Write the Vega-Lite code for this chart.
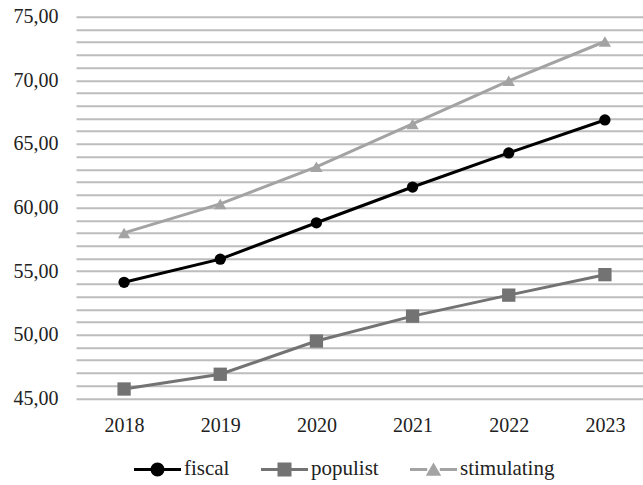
{
  "$schema": "https://vega.github.io/schema/vega-lite/v6.json",
  "width": 577,
  "height": 381.6,
  "autosize": {"type": "none"},
  "padding": {"left": 76, "top": 16.7, "right": 0, "bottom": 87},
  "background": "white",
  "config": {"view": {"stroke": null}, "font": "Liberation Serif"},
  "data": {
    "values": [
      {"year": "2018", "series": "fiscal", "value": 54.12},
      {"year": "2019", "series": "fiscal", "value": 55.94},
      {"year": "2020", "series": "fiscal", "value": 58.8},
      {"year": "2021", "series": "fiscal", "value": 61.61},
      {"year": "2022", "series": "fiscal", "value": 64.29},
      {"year": "2023", "series": "fiscal", "value": 66.88},
      {"year": "2018", "series": "populist", "value": 45.73},
      {"year": "2019", "series": "populist", "value": 46.89},
      {"year": "2020", "series": "populist", "value": 49.5},
      {"year": "2021", "series": "populist", "value": 51.46},
      {"year": "2022", "series": "populist", "value": 53.11},
      {"year": "2023", "series": "populist", "value": 54.72},
      {"year": "2018", "series": "stimulating", "value": 58.0},
      {"year": "2019", "series": "stimulating", "value": 60.28},
      {"year": "2020", "series": "stimulating", "value": 63.2},
      {"year": "2021", "series": "stimulating", "value": 66.57},
      {"year": "2022", "series": "stimulating", "value": 69.96},
      {"year": "2023", "series": "stimulating", "value": 73.05}
    ]
  },
  "encoding": {
    "x": {
      "field": "year", "type": "ordinal",
      "scale": {"type": "point", "padding": 0.5},
      "axis": {"title": null, "labelAngle": 0, "ticks": false, "domain": false, "grid": false, "labelFontSize": 20, "labelPadding": 17, "labelColor": "#222222"}
    },
    "y": {
      "field": "value", "type": "quantitative",
      "scale": {"domain": [45, 75], "nice": false, "zero": false},
      "axis": {
        "title": null, "ticks": false, "domain": false,
        "values": [45,46,47,48,49,50,51,52,53,54,55,56,57,58,59,60,61,62,63,64,65,66,67,68,69,70,71,72,73,74,75],
        "labelExpr": "datum.value % 5 == 0 ? replace(format(datum.value, '.2f'), '.', ',') : ''",
        "gridColor": "#bdbdbd", "gridWidth": 2, "labelPadding": 18, "labelFontSize": 20, "labelColor": "#222222"
      }
    },
    "color": {
      "field": "series", "type": "nominal",
      "scale": {"domain": ["fiscal", "populist", "stimulating"], "range": ["#000000", "#737373", "#a3a3a3"]}
    }
  },
  "layer": [
    {
      "mark": {"type": "point", "filled": true, "opacity": 0, "size": 196},
      "encoding": {
        "color": {
          "field": "series", "type": "nominal",
          "legend": {
            "title": null, "orient": "none", "direction": "horizontal", "legendX": 71, "legendY": 442, "padding": 0,
            "labelFontSize": 21, "labelColor": "#222222", "symbolSize": 196, "symbolOpacity": 1, "symbolStrokeWidth": 0,
            "labelOffset": 16, "columnPadding": 30
          }
        },
        "shape": {
          "field": "series", "type": "nominal",
          "scale": {
            "domain": ["fiscal", "populist", "stimulating"],
            "range": [
              "M-3.36,-0.21H-0.9V0.21H-3.36Z M0.9,-0.21H3.36V0.21H0.9Z M1,0L0.924,0.383L0.707,0.707L0.383,0.924L0,1L-0.383,0.924L-0.707,0.707L-0.924,0.383L-1,0L-0.924,-0.383L-0.707,-0.707L-0.383,-0.924L0,-1L0.383,-0.924L0.707,-0.707L0.924,-0.383Z",
              "M-3.36,-0.21H-0.9V0.21H-3.36Z M0.9,-0.21H3.36V0.21H0.9Z M-1,-1H1V1H-1Z",
              "M-3.36,-0.21H-0.9V0.21H-3.36Z M0.9,-0.21H3.36V0.21H0.9Z M0,-1L1.1,0.9L-1.1,0.9Z"
            ]
          },
          "legend": {
            "title": null, "orient": "none", "direction": "horizontal", "legendX": 71, "legendY": 442, "padding": 0,
            "labelFontSize": 21, "labelColor": "#222222", "symbolSize": 196, "symbolOpacity": 1, "symbolStrokeWidth": 0,
            "labelOffset": 16, "columnPadding": 30
          }
        }
      }
    },
    {"mark": {"type": "line", "strokeWidth": 3}},
    {
      "transform": [{"filter": "datum.series === 'fiscal'"}],
      "mark": {"type": "point", "filled": true, "opacity": 1, "shape": "circle", "size": 127}
    },
    {
      "transform": [{"filter": "datum.series === 'populist'"}],
      "mark": {"type": "point", "filled": true, "opacity": 1, "shape": "square", "size": 177}
    },
    {
      "transform": [{"filter": "datum.series === 'stimulating'"}],
      "mark": {"type": "point", "filled": true, "opacity": 1, "shape": "triangle-up", "size": 150}
    }
  ]
}
